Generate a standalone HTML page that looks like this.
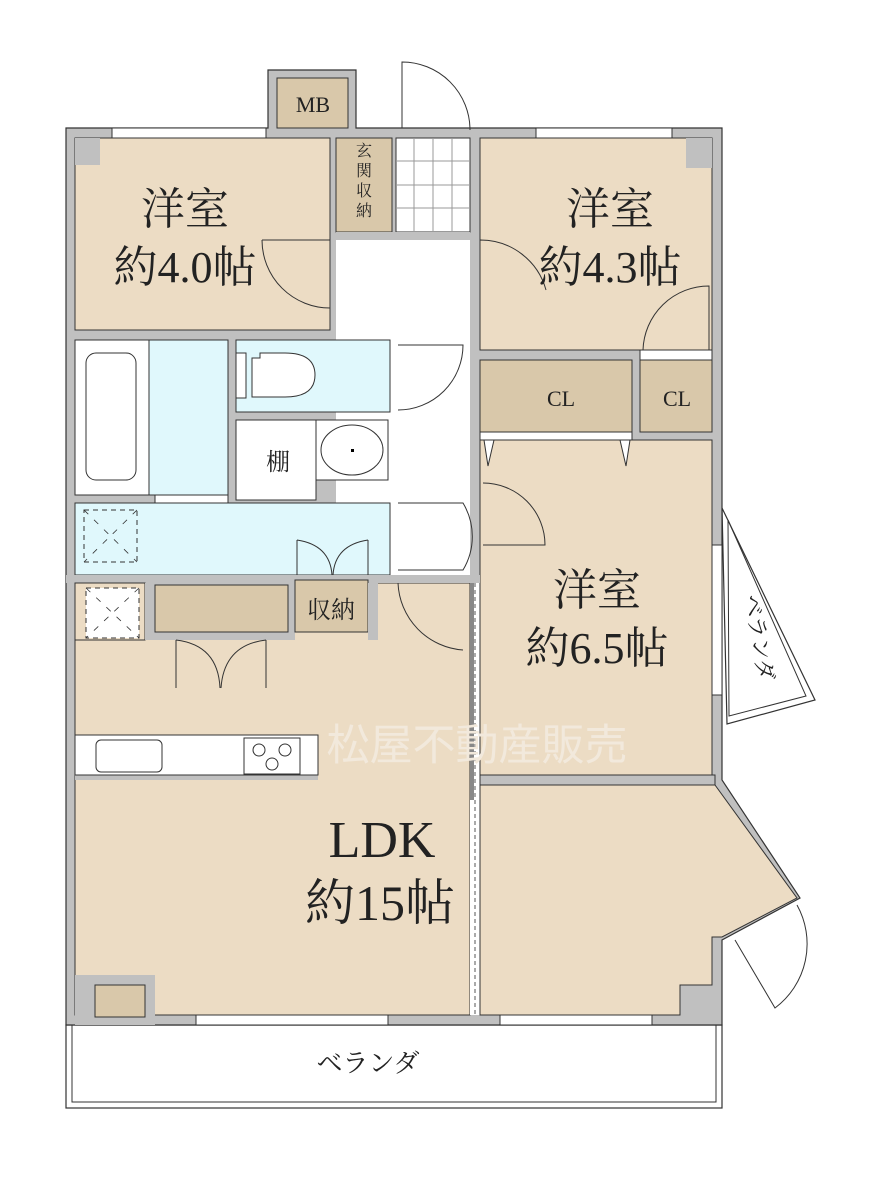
<!DOCTYPE html>
<html><head><meta charset="utf-8"><style>
html,body{margin:0;padding:0;background:#fff}
svg{display:block}
text{font-family:"Liberation Serif","Noto Serif CJK SC",serif;fill:#222}
</style></head><body>
<svg width="880" height="1180" viewBox="0 0 880 1180" xmlns="http://www.w3.org/2000/svg">
<!-- verandas -->
<rect x="66" y="1025" width="656" height="83" fill="#fff" stroke="#333" stroke-width="1.2"/>
<rect x="72" y="1025" width="644" height="77" fill="none" stroke="#333" stroke-width="1"/>
<text x="368" y="1072" font-size="26" text-anchor="middle" font-family="'Noto Sans CJK JP',sans-serif">ベランダ</text>
<polygon points="722,508 815,700 727,724" fill="#fff" stroke="#333" stroke-width="1.2"/>
<polygon points="728,520 806,696 729,716" fill="none" stroke="#333" stroke-width="1"/>
<text transform="translate(744,596) rotate(80)" font-size="22" font-family="'Noto Sans CJK JP',sans-serif">ベランダ</text>

<!-- outer wall -->
<polygon points="66,128 268,128 268,70 356,70 356,128 722,128 722,780 800,898 722,940 722,1025 66,1025" fill="#c0c0c0" stroke="#333" stroke-width="1.2"/>
<!-- MB -->
<rect x="277" y="78" width="71" height="50" fill="#d9c8aa" stroke="#333"/>
<text x="313" y="112" font-size="22" text-anchor="middle">MB</text>
<!-- rooms -->
<polygon points="75,138 330,138 330,330 75,330" fill="#ecdcc4" stroke="#333"/>
<polygon points="84,138 100,138 100,165 75,165 75,138" fill="#c0c0c0"/>
<rect x="336" y="138" width="56" height="94" fill="#d9c8aa" stroke="#333"/>
<text x="364" y="156" font-size="16" text-anchor="middle">玄</text>
<text x="364" y="176" font-size="16" text-anchor="middle">関</text>
<text x="364" y="196" font-size="16" text-anchor="middle">収</text>
<text x="364" y="216" font-size="16" text-anchor="middle">納</text>
<rect x="396" y="138" width="74" height="94" fill="#fff" stroke="#333"/>
<g stroke="#999" stroke-width="1">
<line x1="414" y1="138" x2="414" y2="232"/><line x1="433" y1="138" x2="433" y2="232"/><line x1="452" y1="138" x2="452" y2="232"/>
<line x1="396" y1="161" x2="470" y2="161"/><line x1="396" y1="185" x2="470" y2="185"/><line x1="396" y1="208" x2="470" y2="208"/>
</g>
<rect x="336" y="240" width="134" height="340" fill="#fff"/>
<rect x="336" y="232" width="134" height="8" fill="#c0c0c0"/>
<rect x="480" y="138" width="232" height="212" fill="#ecdcc4" stroke="#333"/>
<polygon points="686,138 712,138 712,168 686,168" fill="#c0c0c0"/>
<rect x="640" y="350" width="72" height="10" fill="#fff" stroke="#333"/>
<rect x="480" y="360" width="152" height="72" fill="#d9c8aa" stroke="#333"/>
<text x="561" y="406" font-size="22" text-anchor="middle">CL</text>
<rect x="640" y="360" width="72" height="72" fill="#d9c8aa" stroke="#333"/>
<text x="677" y="406" font-size="22" text-anchor="middle">CL</text>
<rect x="480" y="440" width="232" height="335" fill="#ecdcc4" stroke="#333"/>
<rect x="480" y="432" width="152" height="8" fill="#fff" stroke="#333"/>
<polygon points="484,440 494,440 488,466" fill="#fff" stroke="#333"/>
<polygon points="620,440 630,440 626,466" fill="#fff" stroke="#333"/>
<!-- wet area -->
<rect x="75" y="340" width="153" height="155" fill="#e0f8fc" stroke="#333"/>
<rect x="75" y="340" width="74" height="155" fill="#fff" stroke="#333"/>
<rect x="86" y="353" width="50" height="127" rx="10" fill="#fff" stroke="#333"/>
<rect x="236" y="340" width="154" height="72" fill="#e0f8fc" stroke="#333"/>
<rect x="236" y="353" width="10" height="45" fill="#fff" stroke="#333"/>
<path d="M252,358 L260,358 L260,353 L285,353 Q315,353 315,375 Q315,397 285,397 L252,397 Z" fill="#fff" stroke="#333"/>
<rect x="236" y="420" width="80" height="80" fill="#fff" stroke="#333"/>
<text x="278" y="470" font-size="24" text-anchor="middle">棚</text>
<rect x="316" y="420" width="72" height="60" fill="#fff" stroke="#333"/>
<ellipse cx="352" cy="450" rx="31" ry="25" fill="#fff" stroke="#333"/>
<rect x="351" y="449" width="3" height="3" fill="#000"/>
<rect x="75" y="503" width="315" height="72" fill="#e0f8fc" stroke="#333"/>
<rect x="155" y="495" width="73" height="8" fill="#fff" stroke="#333"/>
<rect x="84" y="510" width="53" height="52" fill="none" stroke="#333" stroke-dasharray="5,4"/>
<path d="M84,510 L137,562 M137,510 L84,562" stroke="#333" stroke-dasharray="6,8" stroke-width=".8"/>
<path d="M297,540 L297,575 M297,540 Q330,545 332,575 M368,540 L368,575 M368,540 Q335,545 333,575" fill="none" stroke="#333"/>
<!-- LDK -->
<rect x="75" y="583" width="395" height="432" fill="#ecdcc4" stroke="#333"/>
<polygon points="480,785 715,785 797,898 722,937 712,937 712,985 680,985 680,1015 480,1015" fill="#ecdcc4" stroke="#333"/>
<rect x="470" y="583" width="10" height="432" fill="#fff"/>
<line x1="470" y1="583" x2="470" y2="800" stroke="#333"/>
<line x1="480" y1="583" x2="480" y2="1015" stroke="#333"/>
<line x1="475" y1="583" x2="475" y2="1015" stroke="#555" stroke-dasharray="4,3"/>
<rect x="470" y="583" width="4" height="217" fill="#888"/>
<rect x="480" y="775" width="235" height="10" fill="#c0c0c0" stroke="#333"/>
<rect x="66" y="575" width="414" height="8" fill="#c0c0c0"/>
<rect x="75" y="583" width="70" height="57" fill="#ecdcc4" stroke="#333"/>
<rect x="86" y="588" width="53" height="50" fill="#fff" stroke="#333" stroke-dasharray="5,4"/>
<path d="M86,588 L139,638 M139,588 L86,638" stroke="#333" stroke-dasharray="6,8" stroke-width=".8"/>
<rect x="145" y="583" width="150" height="57" fill="#c0c0c0"/>
<rect x="155" y="585" width="133" height="47" fill="#d9c8aa" stroke="#333"/>
<rect x="295" y="580" width="73" height="52" fill="#d9c8aa" stroke="#333"/>
<text x="331" y="618" font-size="24" text-anchor="middle">収納</text>
<rect x="368" y="583" width="10" height="57" fill="#c0c0c0"/>
<path d="M176,640 L176,688 M176,640 Q218,645 220,688 M266,640 L266,688 M266,640 Q224,645 221,688" fill="none" stroke="#333"/>
<rect x="75" y="735" width="243" height="45" fill="#c0c0c0"/>
<rect x="75" y="735" width="243" height="40" fill="#fff" stroke="#333"/>
<rect x="96" y="740" width="66" height="32" rx="5" fill="#fff" stroke="#333"/>
<rect x="244" y="738" width="56" height="36" fill="#fff" stroke="#333"/>
<circle cx="259" cy="750" r="6" fill="none" stroke="#333"/><circle cx="285" cy="750" r="6" fill="none" stroke="#333"/><circle cx="272" cy="764" r="6" fill="none" stroke="#333"/>
<rect x="75" y="975" width="80" height="50" fill="#c0c0c0"/>
<rect x="95" y="985" width="50" height="32" fill="#d9c8aa" stroke="#333"/>
<!-- windows -->
<g fill="#fff" stroke="#333">
<rect x="112" y="128" width="154" height="10"/><rect x="536" y="128" width="136" height="10"/>
<rect x="196" y="1015" width="192" height="10"/><rect x="500" y="1015" width="152" height="10"/>
<rect x="712" y="545" width="10" height="150"/>
</g>
<!-- doors -->
<g fill="none" stroke="#333">
<path d="M402,128 L402,62 A68,68 0 0 1 470,130"/>
<path d="M262,240 L330,240 M262,240 A68,68 0 0 0 330,308"/>
<path d="M480,240 L480,308 M480,240 A68,68 0 0 1 546,290"/>
<path d="M643,350 A66,66 0 0 1 709,286 L709,350"/>
<path d="M398,345 L463,345 A65,65 0 0 1 398,410"/>
<path d="M398,503 L463,503 A65,65 0 0 1 463,570 L398,570"/>
<path d="M483,483 A62,62 0 0 1 545,545 L483,545"/>
<path d="M398,583 A70,70 0 0 0 463,650"/>
<path d="M735,940 L775,1008 A80,80 0 0 0 797,905"/>
</g>
<!-- room labels -->
<text x="185" y="224" font-size="44" text-anchor="middle">洋室</text>
<text x="185" y="282" font-size="44" text-anchor="middle">約4.0帖</text>
<text x="610" y="224" font-size="44" text-anchor="middle">洋室</text>
<text x="610" y="282" font-size="44" text-anchor="middle">約4.3帖</text>
<text x="597" y="605" font-size="44" text-anchor="middle">洋室</text>
<text x="597" y="663" font-size="44" text-anchor="middle">約6.5帖</text>
<text x="382" y="857" font-size="52" text-anchor="middle">LDK</text>
<text x="380" y="920" font-size="50" text-anchor="middle">約15帖</text>
<text x="477" y="760" font-size="43" text-anchor="middle" style="fill:#f2e9dc;font-family:'Noto Sans CJK JP',sans-serif">松屋不動産販売</text>
</svg>
</body></html>
